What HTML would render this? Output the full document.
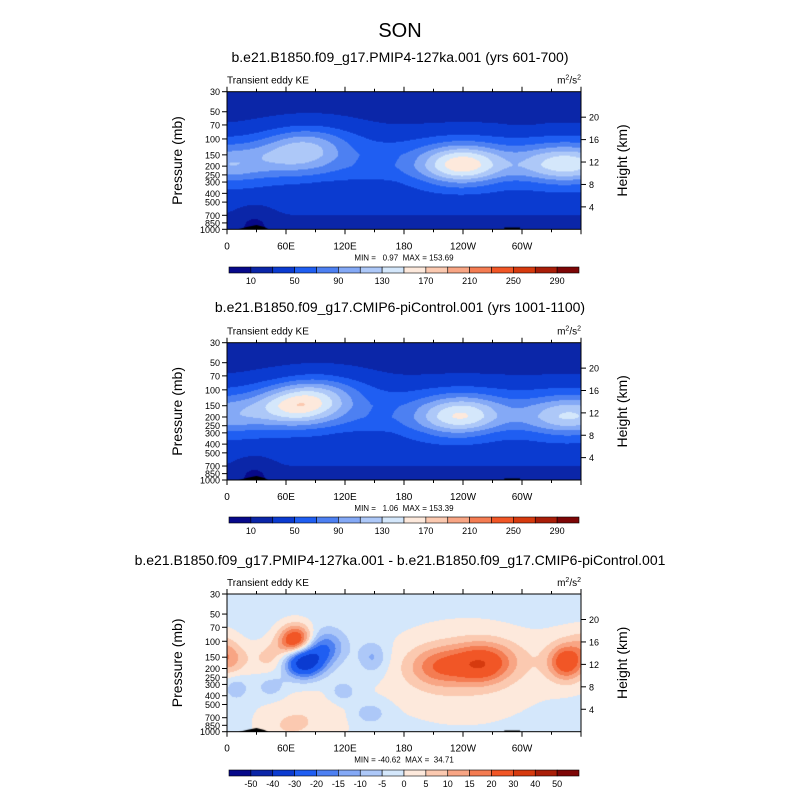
<!DOCTYPE html>
<html><head><meta charset="utf-8"><style>
body{margin:0;background:#fff;width:800px;height:800px;overflow:hidden;font-family:"Liberation Sans",sans-serif}
#root{position:relative;width:800px;height:800px}
canvas{position:absolute}
svg{position:absolute;left:0;top:0}
text{white-space:pre}
</style></head><body><div id="root">
<svg id="ov" width="800" height="800"></svg>
</div>
<script>
// ---- data ----
const keLevels=[10,30,50,70,90,110,130,150,170,190,210,230,250,270,290];
const keLabels=["10","50","90","130","170","210","250","290"];
const diffLevels=[-50,-40,-30,-20,-15,-10,-5,0,5,10,15,20,30,40,50];
const diffLabels=["-50","-40","-30","-20","-15","-10","-5","0","5","10","15","20","30","40","50"];
const colors=['#07098a','#0b26a8','#0b3bd0','#1f5ef2','#4d80f2','#84a9f6','#adc8f8','#d4e7fb','#fde9dc','#fbc9b0','#f8a584','#f47c52','#f15626','#d63a0e','#a91e08','#7d0606'];
const lonTicks=[0,60,120,180,240,300];
const lonTickLabels=["0","60E","120E","180","120W","60W"];
const pTicks=[30,50,70,100,150,200,250,300,400,500,700,850,1000];
const zTicks=[4,8,12,16,20];
const baseP1=[30,50,70,100,150,200,250,300,400,500,700,850,1000];
const baseV1=[25,26,30,44,60,62,55,45,40,34,30,24,20];
const blobLon1=[0,360,68,85,240,235,330,300,28,320];
const blobP1  =[190,190,150,110,185,230,190,40,850,30];
const blobA1  =[45,45,45,36,86,22,50,-12,-18,-8];
const blobLon2=[0,360,70,95,240,225,335,28,300];
const blobP2  =[190,190,150,110,185,230,200,850,30];
const blobA2  =[40,40,86,45,74,22,38,-18,-5];
const baseV3=[-2,-2,-2,-2,-2,-2,-2,-2,-2,-2,-2,-2,-2];
const blobLon3=[0,45,70,78,100,148,215,262,258,345,10,45,118,145,60,80,370,-10,240,85,350];
const blobP3  =[160,150,100,165,115,150,190,160,200,170,330,320,360,620,900,700,110,110,220,600,160];
const blobA3  =[14,9,34,-40,-16,-10,15,17,9,22,-7,-7,-8,-8,4,2,8,8,7,3.5,6];
const blobWx=[14,14,12,14,14,10,22,24,18,12,8,10,10,12,20,25,15,15,55,40,25];
const blobWp=[0.28,0.28,0.28,0.28,0.3,0.28,0.35,0.35,0.3,0.3,0.2,0.2,0.2,0.2,0.3,0.4,0.3,0.3,0.85,0.6,0.5];
// ---- layout ----
const X0=227,X1=581;
const panels=[
 {top:91.7,bot:229.3,sub:"b.e21.B1850.f09_g17.PMIP4-127ka.001 (yrs 601-700)",subY:57,mm:"MIN =   0.97  MAX = 153.69",kind:'ke',bl:blobLon1,bp:blobP1,ba:blobA1,base:baseV1,cbY:267,name:'pmip4'},
 {top:342.7,bot:480,sub:"b.e21.B1850.f09_g17.CMIP6-piControl.001 (yrs 1001-1100)",subY:307,mm:"MIN =   1.06  MAX = 153.39",kind:'ke',bl:blobLon2,bp:blobP2,ba:blobA2,base:baseV1,cbY:517,name:'picontrol'},
 {top:594,bot:731.7,sub:"b.e21.B1850.f09_g17.PMIP4-127ka.001 - b.e21.B1850.f09_g17.CMIP6-piControl.001",subY:560,mm:"MIN = -40.62  MAX =  34.71",kind:'diff',bl:blobLon3,bp:blobP3,ba:blobA3,base:baseV3,cbY:770,name:'difference'}
];
const L=Math.log;
function yOf(pn,p){return pn.top+(L(p/30)/L(1000/30))*(pn.bot-pn.top);}
function xOf(lon){return X0+lon/360*(X1-X0);}
function baseAt(base,p){const lp=L(p);for(let i=0;i<baseP1.length-1;i++){const a=L(baseP1[i]),b=L(baseP1[i+1]);if(lp>=a&&lp<=b){const t=(lp-a)/(b-a);return base[i]+t*(base[i+1]-base[i]);}}return base[base.length-1];}
function field(pn,lon,p){let v=baseAt(pn.base,p);const lp=L(p);for(let i=0;i<pn.bl.length;i++){const wx=pn.kind==='diff'?blobWx[i]:(pn.ba[i]<0?12:30);const wp=pn.kind==='diff'?blobWp[i]:(pn.ba[i]<0?0.25:0.35);const dx=(lon-pn.bl[i])/wx,dp=(lp-L(pn.bp[i]))/wp;v+=pn.ba[i]*Math.exp(-0.5*(dx*dx+dp*dp));}return v;}
function colorFor(levels,v){let k=0;while(k<levels.length&&v>=levels[k])k++;return colors[k];}
const root=document.getElementById('root');const ov=document.getElementById('ov');const NS="http://www.w3.org/2000/svg";
function mk(tag,attrs,parent){const e=document.createElementNS(NS,tag);for(const k in attrs)e.setAttribute(k,attrs[k]);(parent||ov).appendChild(e);return e;}
function txt(x,y,s,size,anchor,parent,extra){const t=mk('text',Object.assign({x:x,y:y,'font-size':size,'text-anchor':anchor||'middle','font-family':'Liberation Sans, sans-serif',fill:'#000'},extra||{}),parent);t.textContent=s;return t;}
const title=txt(400,37,"SON",20);


panels.forEach(pn=>{
 const g=mk('g',{});
 
 
 const levels=pn.kind==='ke'?keLevels:diffLevels;
 const W=Math.round(X1-X0),H=Math.round(pn.bot-pn.top);
 const cv=document.createElement('canvas');cv.width=W;cv.height=H;
 cv.style.left=X0+'px';cv.style.top=pn.top+'px';cv.style.width=W+'px';cv.style.height=(pn.bot-pn.top)+'px';
 
 
 root.insertBefore(cv,ov);
 const ctx=cv.getContext('2d');
 for(let j=0;j<H;j++){const p=30*Math.exp((j+0.5)/H*L(1000/30));for(let i=0;i<W;i++){const lon=(i+0.5)/W*360;ctx.fillStyle=colorFor(levels,field(pn,lon,p));ctx.fillRect(i,j,1,1);}}
 ctx.fillStyle='#000';ctx.beginPath();ctx.moveTo(xOf(12)-X0,H);ctx.lineTo(xOf(20)-X0,H-2);ctx.lineTo(xOf(30)-X0,H-4);ctx.lineTo(xOf(38)-X0,H-2);ctx.lineTo(xOf(42)-X0,H);ctx.fill();
 ctx.fillRect(xOf(282)-X0,H-1.5,xOf(298)-xOf(282),1.5);
 const fr=mk('rect',{x:X0,y:pn.top,width:X1-X0,height:pn.bot-pn.top,fill:'none',stroke:'#000','stroke-width':1},g);
 
 
 txt(400,pn.subY+5,pn.sub,14,'middle',g);
 txt(227,pn.top-8,"Transient eddy KE",10,'start',g);
 const u=txt(581,pn.top-8,"m",10,'end',g);u.innerHTML='m<tspan dy="-4" font-size="7">2</tspan><tspan dy="4">/s</tspan><tspan dy="-4" font-size="7">2</tspan>';
 for(let lon=0;lon<=360;lon+=30){const x=xOf(lon);const maj=lon%60===0;const len=maj?5:3;mk('line',{x1:x,x2:x,y1:pn.bot,y2:pn.bot+len,stroke:'#000'},g);mk('line',{x1:x,x2:x,y1:pn.top,y2:pn.top-len,stroke:'#000'},g);}
 lonTicks.forEach((lon,i)=>{const t=txt(xOf(lon),pn.bot+20,lonTickLabels[i],10,'middle',g);});
 pTicks.forEach(p=>{const y=yOf(pn,p);mk('line',{x1:X0-5,x2:X0,y1:y,y2:y,stroke:'#000'},g);txt(X0-7,y+3.5,String(p),9,'end',g);});
 zTicks.forEach(z=>{const p=1000*Math.exp(-z/7);const y=yOf(pn,p);mk('line',{x1:X1,x2:X1+5,y1:y,y2:y,stroke:'#000'},g);txt(X1+8,y+3.5,String(z),9,'start',g);});
 const mid=(pn.top+pn.bot)/2;
 txt(0,0,"Pressure (mb)",14,'middle',g,{transform:`translate(182,${mid}) rotate(-90)`});
 txt(0,0,"Height (km)",14,'middle',g,{transform:`translate(627,${mid}) rotate(-90)`});
 txt(404,pn.bot+31,pn.mm,8,'middle',g);
 const cb=mk('g',{},g);
 
 
 const cw=(579-229)/16;
 colors.forEach((c,k)=>{mk('rect',{x:229+k*cw,y:pn.cbY,width:cw,height:6,fill:c,stroke:'#000','stroke-width':0.6},cb);});
 if(pn.kind==='ke'){keLabels.forEach((s,k)=>txt(229+(1+2*k)*cw,pn.cbY+17,s,9,'middle',cb));}
 else{diffLabels.forEach((s,k)=>txt(229+(1+k)*cw,pn.cbY+17,s,9,'middle',cb));}
});
</script></body></html>
